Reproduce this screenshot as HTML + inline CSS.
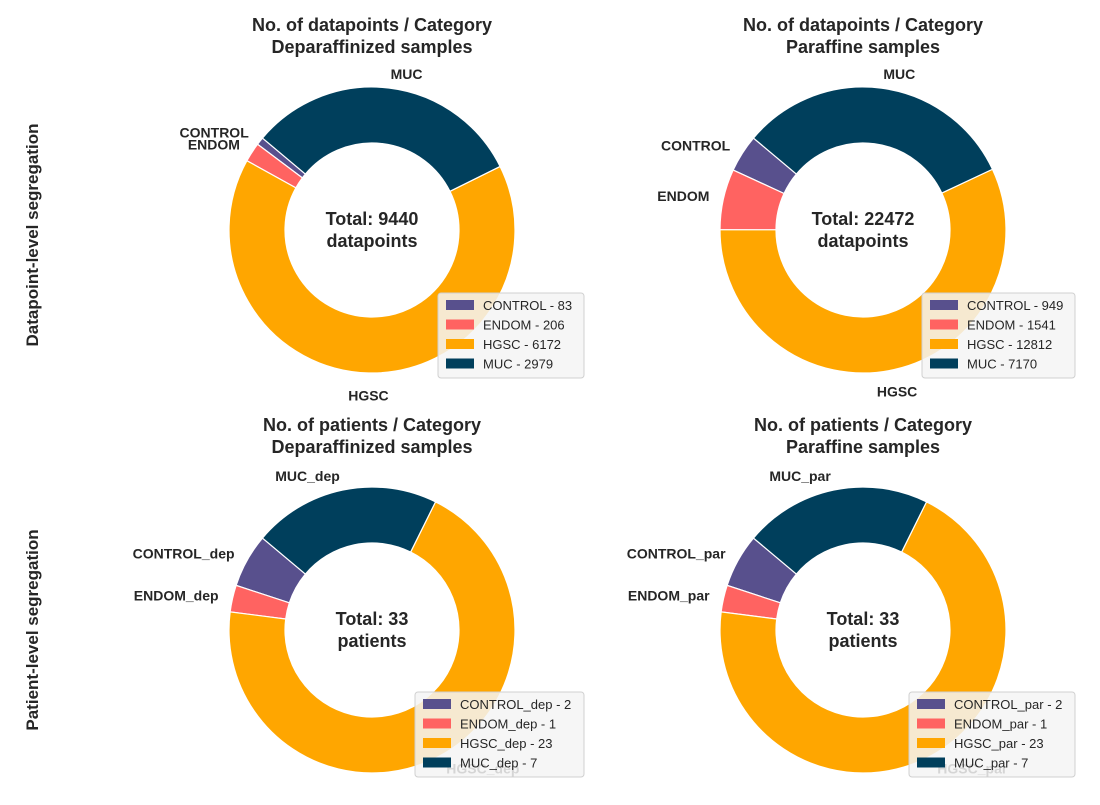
<!DOCTYPE html>
<html><head><meta charset="utf-8"><style>
body{margin:0;background:#fff;width:1100px;height:800px;overflow:hidden;font-family:"Liberation Sans",Arial,sans-serif}
svg text{font-family:"Liberation Sans",Arial,sans-serif;fill:#262626}
</style></head><body>
<svg id="s" width="1100" height="800">
<text x="38" y="235" transform="rotate(-90 38 235)" text-anchor="middle" font-size="17" font-weight="bold">Datapoint-level segregation</text>
<text x="38" y="630" transform="rotate(-90 38 630)" text-anchor="middle" font-size="17" font-weight="bold">Patient-level segregation</text>
</svg>
<script>
const colors=["#58508d","#ff6361","#ffa600","#003f5c"];
const labelsA=["CONTROL","ENDOM","HGSC","MUC"];
const valuesDepDp=[83,206,6172,2979];
const valuesParDp=[949,1541,12812,7170];
const labelsDep=["CONTROL_dep","ENDOM_dep","HGSC_dep","MUC_dep"];
const labelsPar=["CONTROL_par","ENDOM_par","HGSC_par","MUC_par"];
const valuesDepPt=[2,1,23,7];
const valuesParPt=[2,1,23,7];
const startAngle=140;
const charts=[
 {cx:372,cy:230,labels:labelsA,values:valuesDepDp,t1:"No. of datapoints / Category",t2:"Deparaffinized samples",unit:"datapoints",name:"dp-dep",lx:438,ly:293,lw:146},
 {cx:863,cy:230,labels:labelsA,values:valuesParDp,t1:"No. of datapoints / Category",t2:"Paraffine samples",unit:"datapoints",name:"dp-par",lx:922,ly:293,lw:153},
 {cx:372,cy:630,labels:labelsDep,values:valuesDepPt,t1:"No. of patients / Category",t2:"Deparaffinized samples",unit:"patients",name:"pt-dep",lx:415,ly:692,lw:169},
 {cx:863,cy:630,labels:labelsPar,values:valuesParPt,t1:"No. of patients / Category",t2:"Paraffine samples",unit:"patients",name:"pt-par",lx:909,ly:692,lw:166}
];
const R=143,r=87,NS="http://www.w3.org/2000/svg",svg=document.getElementById('s');
function mk(t,a,p){const e=document.createElementNS(NS,t);for(const k in a)e.setAttribute(k,a[k]);(p||svg).appendChild(e);return e;}
function pt(cx,cy,rad,deg){const a=deg*Math.PI/180;return [cx+rad*Math.cos(a),cy-rad*Math.sin(a)];}
charts.forEach(c=>{
 const g=mk('g',{});
 
 
 const tot=c.values.reduce((a,b)=>a+b,0);
 let a0=startAngle;
 c.values.forEach((v,i)=>{
  const sw=v/tot*360,a1=a0+sw,large=sw>180?1:0;
  const p0=pt(c.cx,c.cy,R,a0),p1=pt(c.cx,c.cy,R,a1),q1=pt(c.cx,c.cy,r,a1),q0=pt(c.cx,c.cy,r,a0);
  const w=mk('path',{d:`M${p0[0]},${p0[1]}A${R},${R} 0 ${large} 0 ${p1[0]},${p1[1]}L${q1[0]},${q1[1]}A${r},${r} 0 ${large} 1 ${q0[0]},${q0[1]}Z`,fill:colors[i],stroke:'#fff','stroke-width':1.2},g);
  
  
  const mid=a0+sw/2,lp=pt(c.cx,c.cy,R*1.1,mid);
  const cs=Math.cos(mid*Math.PI/180);
  const anchor=Math.abs(cs)<0.25&&Math.sin(mid*Math.PI/180)<0?'middle':(cs>0?'start':'end');
  const dy=anchor==='middle'?13:5;
  const t=mk('text',{x:lp[0],y:lp[1]+dy,'text-anchor':anchor,'font-size':14,'font-weight':'bold'},g);
  t.textContent=c.labels[i];
  
  
  a0=a1;
 });
 const t1=mk('text',{x:c.cx,y:c.cy-199,'text-anchor':'middle','font-size':18,'font-weight':'bold'},g);t1.textContent=c.t1;
 
 
 const t2=mk('text',{x:c.cx,y:c.cy-177,'text-anchor':'middle','font-size':18,'font-weight':'bold'},g);t2.textContent=c.t2;
 
 
 const ct=mk('text',{x:c.cx,y:c.cy-5,'text-anchor':'middle','font-size':18,'font-weight':'bold'},g);ct.textContent='Total: '+tot;
 
 
 const cu=mk('text',{x:c.cx,y:c.cy+17,'text-anchor':'middle','font-size':18,'font-weight':'bold'},g);cu.textContent=c.unit;
 
 
 const lg=mk('g',{},g);
 
 
 mk('rect',{x:c.lx,y:c.ly,width:c.lw,height:85,rx:3,fill:'rgba(245,245,245,0.85)',stroke:'#d0d0d0'},lg);
 c.labels.forEach((l,i)=>{
  const y=c.ly+12+i*19.5;
  mk('rect',{x:c.lx+8,y:y-5,width:28,height:10,fill:colors[i]},lg);
  const lt=mk('text',{x:c.lx+45,y:y+5,'font-size':13},lg);lt.textContent=l+' - '+c.values[i];
  
  
 });
});
</script>
</body></html>
